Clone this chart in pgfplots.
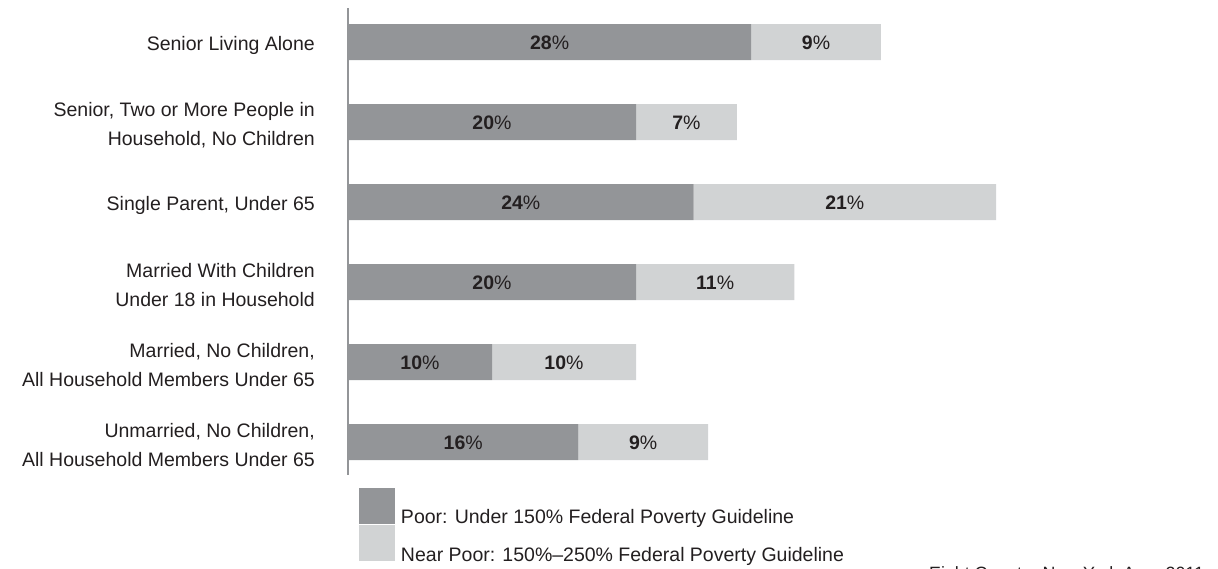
\documentclass[border=0pt]{standalone}
\usepackage{pgfplots}
\pgfplotsset{compat=1.18}
\usepackage{pgfplotstable}
\usepackage{fontspec}
\setmainfont{Liberation Sans}
\definecolor{poor}{RGB}{147,149,152}
\definecolor{near}{RGB}{209,211,212}
\definecolor{txt}{RGB}{35,31,32}
\pgfplotstableread{
idx poor near
0 28 9
1 20 7
2 24 21
3 20 11
4 10 10
5 16 9
}\data
\begin{document}
\begin{tikzpicture}
\begin{axis}[
  at={(348bp,94bp)}, anchor=south west,
  x=14.4bp, y=80bp,
  xmin=0, xmax=60,
  ymin=-0.425, ymax=5.4125,
  y dir=reverse,
  enlargelimits=false,
  xbar stacked, bar width=36bp,
  axis x line=none, axis y line=left,
  y axis line style={-, draw=poor, line width=2.5bp},
  ytick={0,...,5},
  yticklabels={{Senior Living Alone},{Senior, Two or More People in\\Household, No Children},{Single Parent, Under 65},{Married With Children\\Under 18 in Household},{Married, No Children,\\All Household Members Under 65},{Unmarried, No Children,\\All Household Members Under 65}},
  ytick style={draw=none},
  major tick length=0pt,
  yticklabel style={align=right, font=\fontsize{19.5bp}{29bp}\selectfont, text=txt, inner sep=0pt, xshift=-33bp, yshift=-3bp},
  point meta=explicit,
  nodes near coords={\textbf{\pgfmathprintnumber[assume math mode=true, fixed, precision=0]{\pgfplotspointmeta}}\%},
  every node near coord/.append style={anchor=center, font=\fontsize{19.5bp}{22bp}\selectfont, text=txt, yshift=-1bp},
  legend style={draw=none, fill=none, inner sep=0pt, outer sep=0pt,
    at={(0.01273,-0.0278)}, anchor=north west,
    nodes={inner sep=0pt}, cells={anchor=base west},
    row sep=0pt, column sep=6bp,
    font=\fontsize{19.5bp}{22bp}\selectfont, text=txt},
  legend image code/.code={\fill[#1] (0bp,0bp) rectangle (36bp,36bp);},
  clip=false,
]
\addplot[fill=poor, draw=none] table[x=poor, y=idx, meta=poor] {\data};
\addplot[fill=near, draw=none] table[x=near, y=idx, meta=near] {\data};
\legend{Poor: Under 150\% Federal Poverty Guideline, Near Poor: 150\%--250\% Federal Poverty Guideline}
\end{axis}
\node[anchor=north west, inner sep=0pt, text=txt, font=\fontsize{17.8bp}{20bp}\selectfont] at (929bp,3bp) {Eight Counts: New York Area 2011};
\pgfresetboundingbox
\useasboundingbox (0bp,0bp) rectangle (1218bp,569bp);
\end{tikzpicture}
\end{document}
